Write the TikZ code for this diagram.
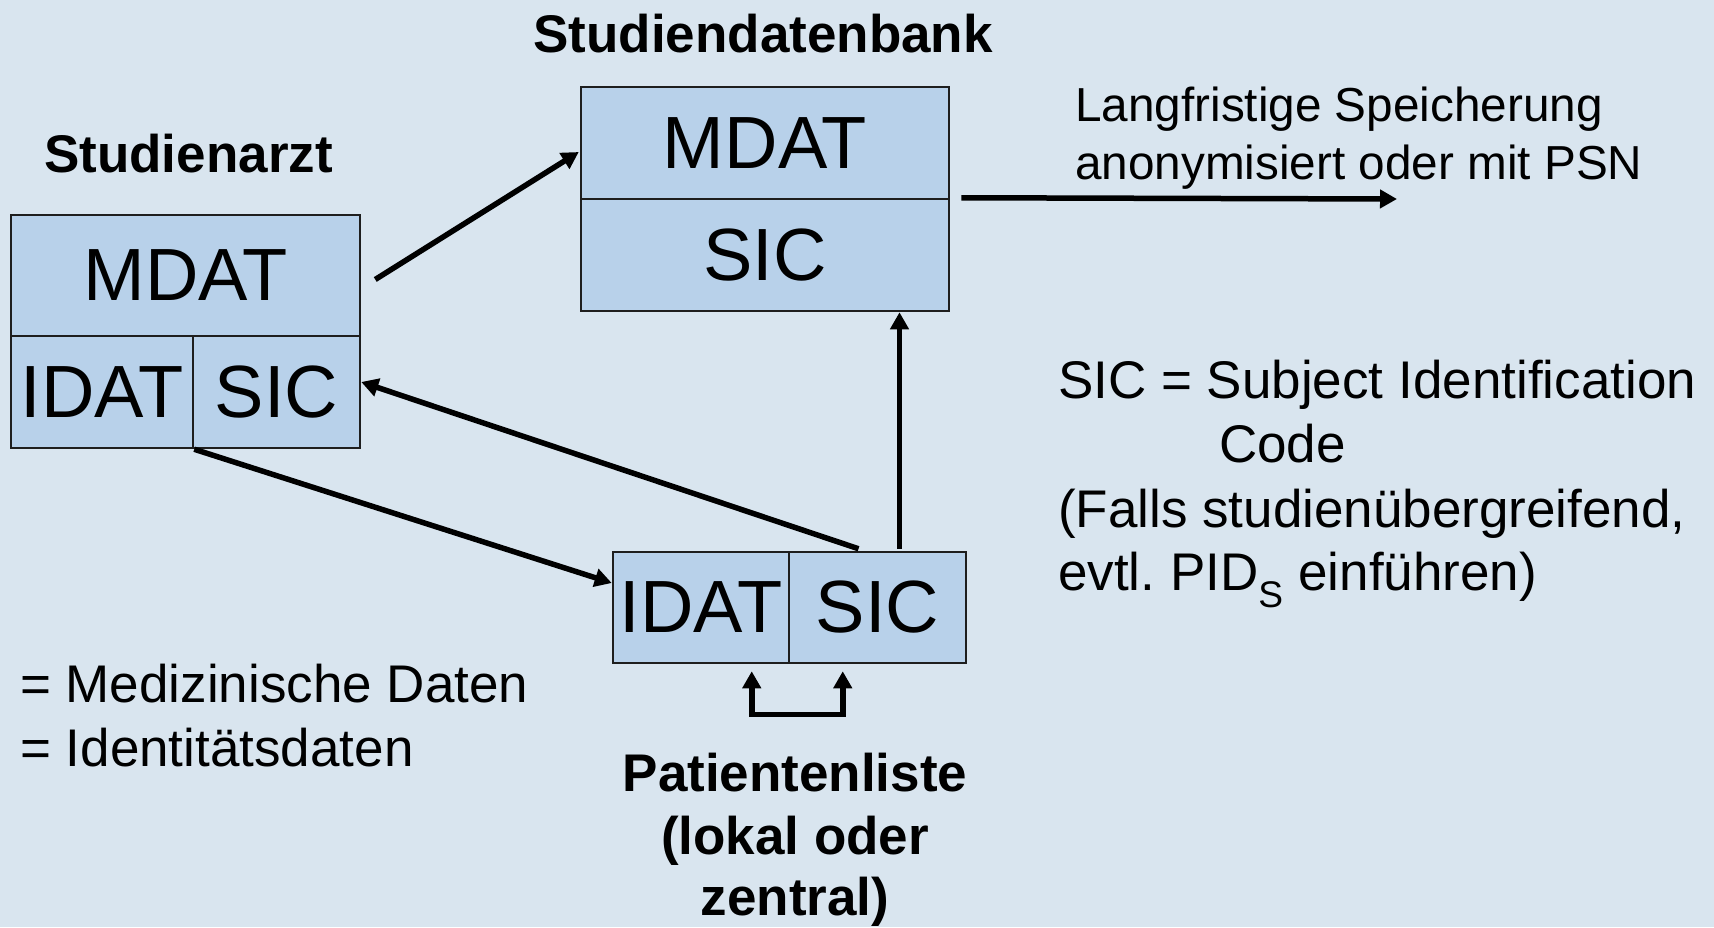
\documentclass[tikz,border=0pt]{standalone}
\usepackage{fontspec}
\setmainfont{Liberation Sans}
\usetikzlibrary{arrows.meta}
\definecolor{bg}{RGB}{217,229,239}
\definecolor{cellfill}{RGB}{184,209,234}
\definecolor{edge}{RGB}{30,30,30}
\begin{document}
\frenchspacing
\begin{tikzpicture}[x=1pt,y=-1pt,
  cell/.style={draw=edge, line width=2.5pt, fill=cellfill, inner sep=0pt,
    font=\fontsize{74}{84}\selectfont, text=black},
  arr/.style={line width=5.5pt, -{Triangle[length=17pt,width=18pt]}},
  looparr/.style={line width=5.5pt, {Triangle[length=17pt,width=18pt]}-{Triangle[length=17pt,width=18pt]}},
  lbl/.style={font=\fontsize{53}{64}\selectfont, inner sep=0pt},
  small/.style={font=\fontsize{47.7}{58}\selectfont, inner sep=0pt},
  title/.style={font=\fontsize{53}{64}\selectfont\bfseries, inner sep=0pt}]
\useasboundingbox (0,0) rectangle (1714,927);
\fill[bg] (0,0) rectangle (1714,927);

% Studienarzt record
\node[cell, minimum width=349pt, minimum height=121pt] (am) at (185.5,275.5) {MDAT};
\node[cell, minimum width=182pt, minimum height=112pt] (ai) at (102,392) {IDAT};
\node[cell, minimum width=167pt, minimum height=112pt] (as) at (276.5,392) {SIC};
% Studiendatenbank record
\node[cell, minimum width=368pt, minimum height=112pt] (dm) at (765,143) {MDAT};
\node[cell, minimum width=368pt, minimum height=112pt] (ds) at (765,255) {SIC};
% Patientenliste record
\node[cell, minimum width=176pt, minimum height=111pt] (pi) at (701,607.5) {IDAT};
\node[cell, minimum width=177pt, minimum height=111pt] (ps) at (877.5,607.5) {SIC};

% connectors
\draw[arr] ([shift={(14,4)}]am.east) -- ([shift={(-1,9)}]dm.west);
\coordinate (store) at (1397,199);
\draw[arr] ([xshift=11pt]ds.north east) -- (store);
\draw[arr] ([shift={(22,-2)}]ps.north) -- ([shift={(22,0)}]ps.north |- ds.south);
\draw[arr] ([shift={(-19,-2)}]ps.north) -- ([shift={(0,-10)}]as.east);
\draw[arr] (ai.south east) -- ([shift={(0,-24.5)}]pi.west);
\draw[looparr] ([shift={(-36,7)}]ps.south west) -- ++(0,43) -| ([shift={(55,7)}]ps.south west);

% titles
\node[title, anchor=base] (tdb) at (763,52) {Studiendatenbank};
\node[title, anchor=base] (tarzt) at (188.5,172) {Studienarzt};
\node[title, anchor=base] (tpl1) at (795,791) {Patientenliste};
\node[title, anchor=base] (tpl2) at (795,854) {(lokal oder};
\node[title, anchor=base] (tpl3) at (795,915) {zentral)};

% notes
\node[small, anchor=base west] (lang1) at (1075,121) {Langfristige Speicherung};
\node[small, anchor=base west] (lang2) at (1075,179) {anonymisiert oder mit PSN};

\node[lbl, anchor=base west] (sic1) at (1058,398) {SIC = Subject Identification};
\node[lbl, anchor=base west] (sic2) at (1219,462) {Code};
\node[lbl, anchor=base west] (sic3) at (1058,527) {(Falls studienübergreifend,};
\node[lbl, anchor=base west] (sic4) at (1058,590) {evtl. PID\textsubscript{S} einführen)};

\node[lbl, anchor=base west] (leg1) at (20,702) {= Medizinische Daten};
\node[lbl, anchor=base west] (leg2) at (20,766) {= Identitätsdaten};
\end{tikzpicture}
\end{document}
